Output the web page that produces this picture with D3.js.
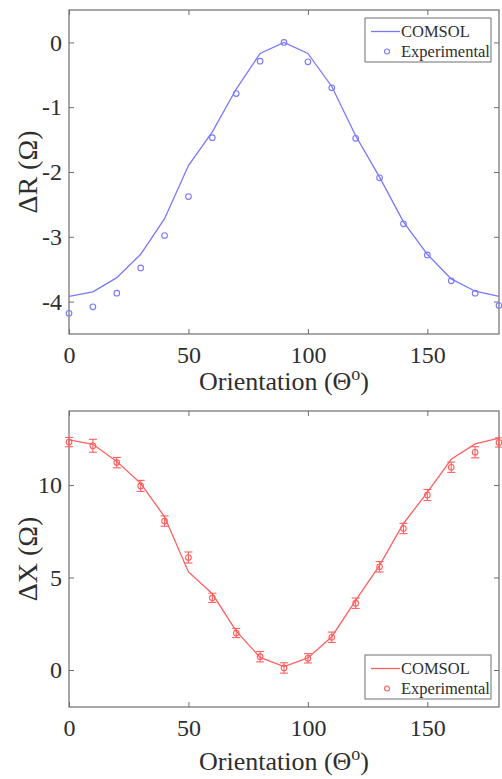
<!DOCTYPE html>
<html><head><meta charset="utf-8">
<script src="https://cdn.jsdelivr.net/npm/d3@7"></script>
<style>body{margin:0;background:#fff}svg{display:block}
svg text{font-family:"Liberation Serif","DejaVu Serif",serif !important;}</style>
</head><body>
<svg id="c" width="502" height="779"></svg>
<script>
// ---- data ----
const angles = [0,10,20,30,40,50,60,70,80,90,100,110,120,130,140,150,160,170,180];
const rComsol = [-3.92,-3.85,-3.63,-3.27,-2.72,-1.90,-1.38,-0.72,-0.17,0,-0.17,-0.68,-1.44,-2.08,-2.77,-3.27,-3.65,-3.84,-3.92];
const rExp    = [-4.18,-4.08,-3.87,-3.48,-2.98,-2.38,-1.47,-0.79,-0.29,0,-0.30,-0.70,-1.48,-2.09,-2.80,-3.28,-3.68,-3.87,-4.06];
const xComsol = [12.44,12.20,11.27,10.09,8.28,5.30,4.12,2.10,0.68,0.18,0.65,1.80,3.76,5.66,7.92,9.60,11.39,12.22,12.53];
const xExp    = [12.32,12.12,11.21,9.95,8.05,6.08,3.90,2.00,0.72,0.11,0.63,1.77,3.61,5.58,7.65,9.46,10.96,11.77,12.30];
const xErr    = [0.25,0.35,0.28,0.30,0.28,0.30,0.25,0.25,0.28,0.28,0.25,0.28,0.28,0.28,0.28,0.30,0.28,0.30,0.25];
const xTicks = [0,50,100,150];
const rTicks = [0,-1,-2,-3,-4];
const dxTicks = [0,5,10];
const legendLabels = ["COMSOL","Experimental"];

const svg = d3.select("#c");
const axisCol = "#6e6e6e";
const textCol = "#2e2e2e";

function panel(opt){
  const {top,bottom,ydom,yticks,comsol,exp,err,color,ylabel,legendY,titleGap} = opt;
  const left = 69, right = 499;
  const x = d3.scaleLinear().domain([0,180]).range([left,right]);
  const y = d3.scaleLinear().domain(ydom).range([bottom,top]);
  const g = svg.append("g");
  g.append("rect").attr("x",left).attr("y",top).attr("width",right-left).attr("height",bottom-top)
    .attr("fill","none").attr("stroke",axisCol).attr("stroke-width",1.2);
  const styleAxis = s => { s.attr("font-family",null); s.select(".domain").remove(); s.selectAll("line").attr("stroke",axisCol);
    s.selectAll("text").attr("font-size",24).attr("fill",textCol); };
  g.append("g").attr("transform",`translate(0,${bottom})`)
    .call(d3.axisBottom(x).tickValues(xTicks).tickSize(-5).tickPadding(12).tickFormat(d3.format("d"))).call(styleAxis);
  g.append("g").attr("transform",`translate(0,${top})`)
    .call(d3.axisTop(x).tickValues(xTicks).tickSize(-5).tickFormat("")).call(styleAxis);
  g.append("g").attr("transform",`translate(${left},0)`)
    .call(d3.axisLeft(y).tickValues(yticks).tickSize(-5).tickPadding(7).tickFormat(d=>String(d))).call(styleAxis);
  g.append("g").attr("transform",`translate(${right},0)`)
    .call(d3.axisRight(y).tickValues(yticks).tickSize(-5).tickFormat("")).call(styleAxis);
  const line = d3.line().x((d,i)=>x(angles[i])).y(d=>y(d));
  g.append("path").datum(comsol).attr("d",line).attr("fill","none").attr("stroke",color).attr("stroke-width",1.3);
  if(err){
    const eb = g.append("g").attr("stroke",color).attr("stroke-width",1.1);
    angles.forEach((a,i)=>{
      const cx=x(a), y1=y(exp[i]-err[i]), y2=y(exp[i]+err[i]);
      eb.append("line").attr("x1",cx).attr("x2",cx).attr("y1",y1).attr("y2",y2);
      eb.append("line").attr("x1",cx-4).attr("x2",cx+4).attr("y1",y1).attr("y2",y1);
      eb.append("line").attr("x1",cx-4).attr("x2",cx+4).attr("y1",y2).attr("y2",y2);
    });
  }
  g.append("g").selectAll("circle").data(exp).join("circle")
    .attr("cx",(d,i)=>x(angles[i])).attr("cy",d=>y(d)).attr("r",2.8)
    .attr("fill","none").attr("stroke",color).attr("stroke-width",1.1);
  const xl = g.append("text").attr("x",(left+right)/2).attr("y",bottom+titleGap).attr("text-anchor","middle")
    .attr("font-size",26).attr("fill",textCol);
  xl.append("tspan").text("Orientation (Θ");
  xl.append("tspan").attr("dy",-10).attr("font-size",18).text("o");
  xl.append("tspan").attr("dy",10).text(")");
  g.append("text").attr("transform",`translate(37,${(top+bottom)/2}) rotate(-90)`).attr("text-anchor","middle")
    .attr("font-size",28).attr("fill",textCol).text(ylabel);
  const lx=365, lw=126, lh=44;
  const lg = g.append("g");
  lg.append("rect").attr("x",lx).attr("y",legendY).attr("width",lw).attr("height",lh)
    .attr("fill","#fff").attr("stroke",axisCol).attr("stroke-width",1);
  const r1 = legendY+13.5, r2 = legendY+33.5;
  lg.append("line").attr("x1",371).attr("x2",400).attr("y1",r1).attr("y2",r1).attr("stroke",color).attr("stroke-width",1.3);
  lg.append("circle").attr("cx",387).attr("cy",r2).attr("r",2.5).attr("fill","none").attr("stroke",color).attr("stroke-width",1.1);
  lg.selectAll("text").data(legendLabels).join("text")
    .attr("x",401).attr("y",(d,i)=>(i?r2:r1)+5.5).attr("font-size",16.5).attr("fill",textCol).text(d=>d);
}

panel({top:10,bottom:334,ydom:[-4.5,0.5],yticks:rTicks,comsol:rComsol,exp:rExp,err:null,
  color:"#7878ff",ylabel:"ΔR (Ω)",legendY:18,titleGap:56});
panel({top:411,bottom:707,ydom:[-2,14],yticks:dxTicks,comsol:xComsol,exp:xExp,err:xErr,
  color:"#ff6060",ylabel:"ΔX (Ω)",legendY:655,titleGap:63});
</script>
</body></html>
